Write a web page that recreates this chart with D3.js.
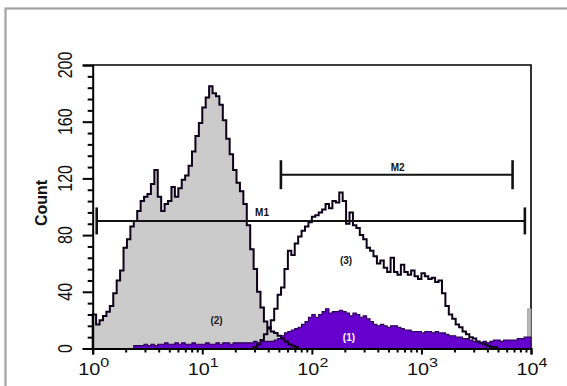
<!DOCTYPE html>
<html>
<head>
<meta charset="utf-8">
<script src="https://cdn.jsdelivr.net/npm/d3@7"></script>
<style>
  html, body { margin: 0; padding: 0; background: #fff; }
  svg { display: block; }
  text { font-family: "Liberation Sans", Arial, Helvetica, sans-serif; }
</style>
</head>
<body>
<svg id="chart" width="567" height="386"></svg>
<script>
// Flow cytometry overlay: three histograms on a 4-decade log axis.
// Channels are 1/32 of a decade wide; each series lists counts from its first channel.
const channelsPerDecade = 32;

// (2) gray-filled population, starting at channel 0
const grayStart = 0;
const grayCounts = [
  24, 17, 20, 23, 26, 30, 39, 48, 55, 71,
  77, 86, 90, 97, 104, 107, 109, 116, 126, 107,
  97, 102, 104, 114, 107, 113, 119, 122, 129, 139,
  150, 159, 170, 177, 185, 180, 178, 172, 161, 148,
  137, 126, 117, 111, 102, 87, 70, 56, 40, 29,
  19, 15, 12, 11, 9, 7, 5, 3, 2, 1
];
// gray population pile-up in the last channel
const grayLastChannel = 127;
const grayLastCount = 28;

// (3) open (outline only) population
const openStart = 47;
const openCounts = [
  1, 3, 6, 10, 14, 20, 28, 38, 43, 56,
  69, 66, 74, 79, 83, 86, 89, 93, 94, 96,
  98, 102, 99, 104, 103, 110, 104, 88, 96, 87,
  85, 80, 77, 71, 69, 65, 60, 62, 57, 54,
  64, 54, 52, 59, 54, 52, 55, 51, 49, 53,
  51, 49, 50, 47, 48, 39, 30, 24, 21, 17,
  15, 12, 10, 8, 7, 5, 4, 3, 2, 1,
  1
];

// (1) purple-filled population
const purpleStart = 12;
const purpleCounts = [
  2, 2, 2, 3, 2, 3, 2, 3, 3, 4,
  3, 3, 4, 3, 4, 3, 3, 4, 3, 3,
  3, 4, 3, 3, 4, 3, 4, 4, 3, 4,
  4, 4, 4, 4, 4, 5, 4, 5, 5, 5,
  5, 6, 7, 9, 11, 12, 13, 14, 15, 17,
  19, 22, 24, 22, 24, 26, 28, 25, 26, 26,
  27, 26, 25, 23, 25, 24, 22, 23, 21, 19,
  17, 16, 17, 16, 15, 16, 16, 15, 14, 13,
  13, 12, 12, 12, 11, 12, 12, 11, 12, 11,
  11, 10, 9, 9, 8, 8, 7, 7, 6, 5,
  5, 4, 5, 4, 5, 6, 6, 5, 6, 6,
  6, 6, 7, 7, 8, 8
];

// Axis ticks
const xMajorTicks = [1, 10, 100, 1000, 10000];
const xTickExponents = ["0", "1", "2", "3", "4"];
const yMajorTicks = [0, 40, 80, 120, 160, 200];
const yMinorTicks = [8, 16, 24, 32, 48, 56, 64, 72, 88, 96, 104, 112, 128, 136, 144, 152, 168, 176, 184, 192];

// Region markers: [low, high, count level]
const markerNames = ["M1", "M2"];
const markerLow = [1.088, 52.2];
const markerHigh = [8790, 6790];
const markerLevel = [90, 122.6];

// Population labels
const popLabels = ["(2)", "(3)", "(1)"];
const popLabelX = [13.5, 205, 218];
const popLabelY = [20, 62, 8];
const popLabelColor = ["#222", "#111", "#fff"];

const svg = d3.select("#chart");
const plot = { left: 92.7, right: 531, top: 65, bottom: 348.5 };

const x = d3.scaleLog().domain([1, 10000]).range([plot.left, plot.right]);
const y = d3.scaleLinear().domain([0, 200]).range([plot.bottom, plot.top]);

// Outer panel border
svg.append("rect")
  .attr("x", 5.5).attr("y", 8.5)
  .attr("width", 620).attr("height", 420)
  .attr("fill", "#fff")
  .attr("stroke", "#a3a3a3")
  .attr("stroke-width", 2.2);

// Plot frame (top and right edges)
svg.append("path")
  .attr("d", `M${plot.left},${plot.top}H${plot.right}V${plot.bottom}`)
  .attr("fill", "none").attr("stroke", "#000").attr("stroke-width", 1.6);

function chValue(ch) { return Math.pow(10, ch / channelsPerDecade); }

function stepPoints(start, counts) {
  const pts = counts.map((v, i) => ({ ch: start + i, v }));
  pts.push({ ch: start + counts.length, v: counts[counts.length - 1] });
  return pts;
}
function outlinePoints(start, counts) {
  const pts = [{ ch: start, v: 0 }].concat(stepPoints(start, counts));
  pts.push({ ch: start + counts.length, v: 0 });
  return pts;
}

const area = d3.area()
  .x(d => x(chValue(d.ch)))
  .y0(y(0))
  .y1(d => y(d.v))
  .curve(d3.curveStepAfter);
const line = d3.line()
  .x(d => x(chValue(d.ch)))
  .y(d => y(d.v))
  .curve(d3.curveStepAfter);

const g = svg.append("g");

// Fills
g.append("path").attr("d", area(stepPoints(grayStart, grayCounts)))
  .attr("fill", "#cbcbcb");
g.append("path").attr("d", area(stepPoints(grayLastChannel, [grayLastCount])))
  .attr("fill", "#b8b8b8").attr("stroke", "#9a9a9a").attr("stroke-width", 0.8);
g.append("path").attr("d", area(stepPoints(purpleStart, purpleCounts)))
  .attr("fill", "#6600cc");

// Outlines
g.append("path").attr("d", line(outlinePoints(grayStart, grayCounts)))
  .attr("fill", "none").attr("stroke", "#0d0018").attr("stroke-width", 2);
g.append("path").attr("d", line(outlinePoints(openStart, openCounts)))
  .attr("fill", "none").attr("stroke", "#0d0018").attr("stroke-width", 2);
g.append("path").attr("d", line(outlinePoints(purpleStart, purpleCounts)))
  .attr("fill", "none").attr("stroke", "#2a0055").attr("stroke-width", 1.1);

// Y axis
svg.append("g").attr("transform", `translate(${plot.left},0)`)
  .call(d3.axisLeft(y).tickValues(yMajorTicks).tickSize(10).tickFormat(""));
svg.append("g").attr("transform", `translate(${plot.left},0)`)
  .call(d3.axisLeft(y).tickValues(yMinorTicks).tickSize(5).tickFormat(""))
  .select(".domain").remove();

// X axis
svg.append("g").attr("transform", `translate(0,${plot.bottom})`)
  .call(d3.axisBottom(x).tickValues(xMajorTicks).tickSize(6).tickFormat(""));
const xMinor = [];
xMajorTicks.slice(0, -1).forEach(d => { [2,3,4,5,6,7,8,9].forEach(m => xMinor.push(d * m)); });
svg.append("g").attr("transform", `translate(0,${plot.bottom})`)
  .call(d3.axisBottom(x).tickValues(xMinor).tickSize(4).tickFormat(""))
  .select(".domain").remove();

svg.selectAll(".domain").attr("stroke", "#000").attr("stroke-width", 2);
svg.selectAll(".tick line").attr("stroke", "#000").attr("stroke-width", 2);

// Y tick labels (rotated)
svg.append("g").selectAll("text").data(yMajorTicks).join("text")
  .attr("transform", d => `translate(72,${y(d)}) scale(1.25,1) rotate(-90)`)
  .attr("text-anchor", "middle")
  .attr("font-size", 16)
  .attr("fill", "#111")
  .text(d => d);

// X tick labels: 10 with superscript exponent
const xl = svg.append("g").selectAll("text").data(xMajorTicks).join("text")
  .attr("transform", d => `translate(${x(d) + 1},375) scale(1.24,1)`)
  .attr("text-anchor", "middle")
  .attr("font-size", 16)
  .attr("fill", "#111");
xl.append("tspan").text("10");
xl.append("tspan").attr("dy", -8).attr("font-size", 13).text((d, i) => xTickExponents[i]);

// Y axis title
svg.append("text")
  .attr("transform", `translate(47,203) rotate(-90)`)
  .attr("text-anchor", "middle")
  .attr("font-size", 16)
  .attr("font-weight", "bold")
  .attr("fill", "#111")
  .text("Count");

// Region markers
const mk = svg.append("g");
markerNames.forEach((name, i) => {
  const x0 = x(markerLow[i]), x1 = x(markerHigh[i]), yy = y(markerLevel[i]);
  const half = i === 0 ? 13.5 : 14.5;
  mk.append("line").attr("x1", x0).attr("x2", x1).attr("y1", yy).attr("y2", yy)
    .attr("stroke", "#111").attr("stroke-width", 2);
  [x0, x1].forEach(xx => {
    mk.append("line").attr("x1", xx).attr("x2", xx).attr("y1", yy - half).attr("y2", yy + half)
      .attr("stroke", "#111").attr("stroke-width", 2.6);
  });
});
mk.append("text").attr("x", 262).attr("y", y(markerLevel[0]) - 4.5)
  .attr("text-anchor", "middle").attr("font-size", 10).attr("font-weight", "bold")
  .attr("fill", "#111").text(markerNames[0]);
mk.append("text").attr("x", x(Math.sqrt(markerLow[1] * markerHigh[1])) + 1).attr("y", y(markerLevel[1]) - 3.5)
  .attr("text-anchor", "middle").attr("font-size", 10).attr("font-weight", "bold")
  .attr("fill", "#111").text(markerNames[1]);

// Population labels
svg.append("g").selectAll("text").data(popLabels).join("text")
  .attr("x", (d, i) => x(popLabelX[i]))
  .attr("y", (d, i) => y(popLabelY[i]) + 3.5)
  .attr("text-anchor", "middle")
  .attr("font-size", 10)
  .attr("font-weight", "bold")
  .attr("fill", (d, i) => popLabelColor[i])
  .text(d => d);
</script>
</body>
</html>
